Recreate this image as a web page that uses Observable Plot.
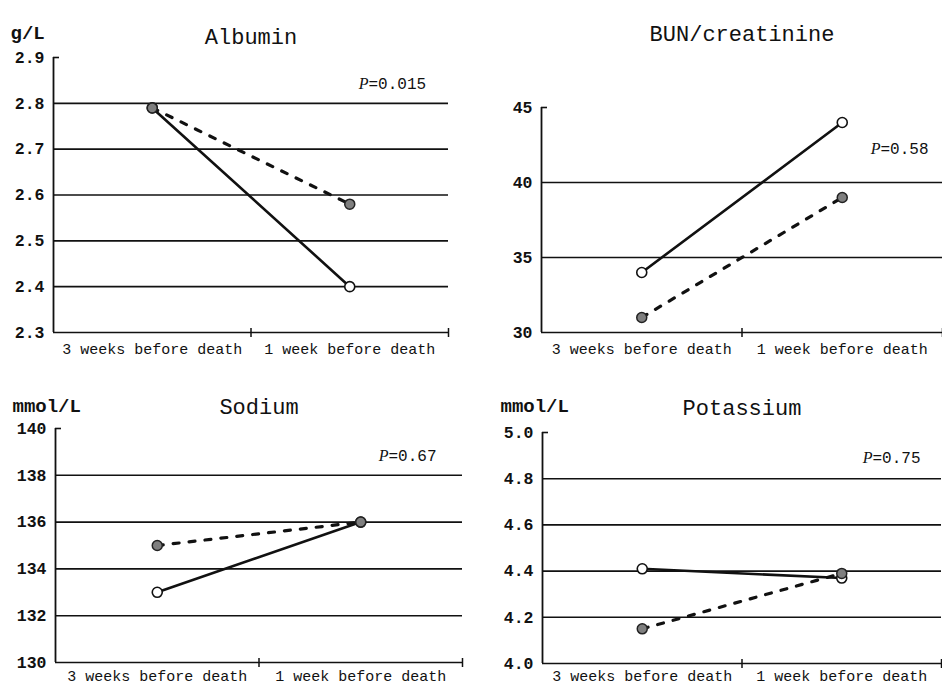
<!DOCTYPE html>
<html><head><meta charset="utf-8">
<script src="https://cdn.jsdelivr.net/npm/d3@7"></script>
<script src="https://cdn.jsdelivr.net/npm/@observablehq/plot@0.6"></script>
<style>
body{margin:0;background:#fff;}
#wrap{position:relative;width:942px;height:688px;overflow:hidden;background:#fff;}
#wrap svg{position:absolute;}
</style></head><body><div id="wrap"></div>
<script>
// ---- data ----
const timepoints = ["3 weeks before death", "1 week before death"];

const albuminTicks = [2.3, 2.4, 2.5, 2.6, 2.7, 2.8, 2.9];
const albuminSolid = [2.79, 2.40];
const albuminDashed = [2.79, 2.58];

const bunTicks = [30, 35, 40, 45];
const bunSolid = [34, 44];
const bunDashed = [31, 39];

const sodiumTicks = [130, 132, 134, 136, 138, 140];
const sodiumSolid = [133, 136];
const sodiumDashed = [135, 136];

const potassiumTicks = [4.0, 4.2, 4.4, 4.6, 4.8, 5.0];
const potassiumSolid = [4.41, 4.37];
const potassiumDashed = [4.15, 4.39];

const panelTitles = ["Albumin", "BUN/creatinine", "Sodium", "Potassium"];
const panelUnits = ["g/L", "", "mmol/L", "mmol/L"];
const pValues = ["=0.015", "=0.58", "=0.67", "=0.75"];

const FONT = "'Liberation Mono', 'DejaVu Sans Mono', monospace";
const wrap = document.getElementById("wrap");

function panel(cfg) {
  const n = timepoints.length;
  const rows = timepoints.map((t, i) => ({i, t, solid: cfg.solid[i], dashed: cfg.dashed[i]}));
  const ymin = cfg.ticks[0], ymax = cfg.ticks[cfg.ticks.length - 1];
  const centers = d3.range(n).map(i => i + 0.5);
  const bounds = d3.range(1, n + 1);
  const xc = d => d.i + 0.5;
  const marks = [
    Plot.ruleY(cfg.ticks.filter(t => t !== ymax), {stroke: "#111", strokeWidth: 1.6}),
    Plot.ruleX([0], {y1: ymin, y2: ymax, stroke: "#111", strokeWidth: 1.8}),
    Plot.ruleY([ymax], {x1: 0, x2: 0, insetRight: -6, stroke: "#111", strokeWidth: 1.6}),
    Plot.ruleX(bounds, {y1: ymin, y2: ymin, insetTop: -4, insetBottom: -5, stroke: "#111", strokeWidth: 1.5}),
    Plot.axisY({ticks: cfg.ticks, tickSize: 0, tickPadding: 9, tickFormat: cfg.fmt,
      fontSize: 16.5, fontWeight: "bold", fill: "#111"}),
    Plot.axisX({ticks: centers, tickSize: 0, tickPadding: cfg.xPad, tickFormat: d => timepoints[Math.floor(d)],
      fontSize: 15, fill: "#111"}),
    Plot.line(rows, {x: xc, y: "dashed", stroke: "#111", strokeWidth: 3.2, strokeDasharray: "6,10"}),
    Plot.line(rows, {x: xc, y: "solid", stroke: "#111", strokeWidth: 2.6}),
    Plot.dot(rows, {x: xc, y: "solid", r: 5, fill: "#fff", stroke: "#111", strokeWidth: 1.6}),
    Plot.dot(rows, {x: xc, y: "dashed", r: 5, fill: "#7f7f7f", stroke: "#222", strokeWidth: 1.5}),
    Plot.text([cfg.title], {text: d => d, frameAnchor: "top", dy: cfg.titleDy, fontSize: 22, fill: "#111"}),
    Plot.text(["P"], {text: d => d, frameAnchor: "top-right", dx: cfg.pDx, dy: cfg.pDy, textAnchor: "end",
      fontSize: 16, fontStyle: "italic", fontFamily: "'Liberation Serif', serif", fill: "#111"}),
    Plot.text([cfg.p], {text: d => d, frameAnchor: "top-right", dx: cfg.pDx, dy: cfg.pDy, textAnchor: "start",
      fontSize: 16, fill: "#111"})
  ];
  if (cfg.unit) {
    marks.push(Plot.text([cfg.unit], {text: d => d, frameAnchor: "top-left", dx: cfg.unitDx, dy: cfg.unitDy,
      textAnchor: "start", fontSize: 19, fontWeight: "bold", fill: "#111"}));
  }
  const svg = Plot.plot({
    width: cfg.w, height: cfg.h,
    marginLeft: cfg.mL, marginRight: cfg.mR, marginTop: cfg.mT, marginBottom: cfg.mB,
    x: {type: "linear", domain: [0, n]},
    y: {type: "linear", domain: [ymin, ymax]},
    style: {fontFamily: FONT, background: "transparent", overflow: "visible", color: "#111"},
    marks
  });
  svg.style.left = cfg.left + "px";
  svg.style.top = cfg.top + "px";
  wrap.appendChild(svg);
}

panel({title: panelTitles[0], unit: panelUnits[0], p: pValues[0], ticks: albuminTicks,
  solid: albuminSolid, dashed: albuminDashed, fmt: d3.format(".1f"),
  left: 0, top: 0, w: 471, h: 365, mL: 53, mR: 23, mT: 57, mB: 33, xPad: 11,
  titleDy: -29, unitDx: -43, unitDy: -32, pDx: -80, pDy: 20});
panel({title: panelTitles[1], unit: panelUnits[1], p: pValues[1], ticks: bunTicks,
  solid: bunSolid, dashed: bunDashed, fmt: d3.format("d"),
  left: 471, top: 0, w: 471, h: 365, mL: 70, mR: 0, mT: 107, mB: 33, xPad: 11,
  titleDy: -82, unitDx: 0, unitDy: 0, pDx: -62, pDy: 35});
panel({title: panelTitles[2], unit: panelUnits[2], p: pValues[2], ticks: sodiumTicks,
  solid: sodiumSolid, dashed: sodiumDashed, fmt: d3.format("d"),
  left: 0, top: 365, w: 471, h: 323, mL: 55, mR: 9, mT: 63, mB: 26, xPad: 8,
  titleDy: -30, unitDx: -43, unitDy: -30, pDx: -74, pDy: 21});
panel({title: panelTitles[3], unit: panelUnits[3], p: pValues[3], ticks: potassiumTicks,
  solid: potassiumSolid, dashed: potassiumDashed, fmt: d3.format(".1f"),
  left: 471, top: 365, w: 471, h: 323, mL: 71, mR: 1, mT: 67, mB: 25, xPad: 7,
  titleDy: -33, unitDx: -42, unitDy: -34, pDx: -69, pDy: 19});
</script>
</body></html>
